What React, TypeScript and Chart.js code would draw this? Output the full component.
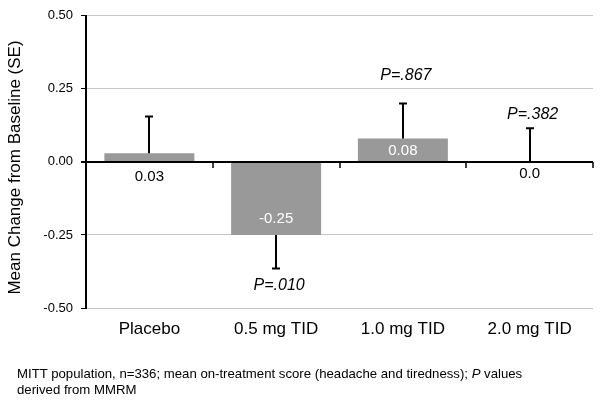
import React, { useEffect, useRef } from 'react';
import { Chart, registerables } from 'chart.js';

Chart.register(...registerables);

const categories = ['Placebo', '0.5 mg TID', '1.0 mg TID', '2.0 mg TID'];
const meanChange = [0.03, -0.25, 0.08, 0.0];
const standardError = [0.125, 0.115, 0.12, 0.115];
const valueLabels = ['0.03', '-0.25', '0.08', '0.0'];
const pValueLabels = ['', 'P=.010', 'P=.867', 'P=.382'];
const yTickValues = [-0.5, -0.25, 0, 0.25, 0.5];
const yAxisTitle = 'Mean Change from Baseline (SE)';

const FONT = "'Liberation Sans', Arial, Helvetica, sans-serif";

// style config (not data)
const labelPlacement = ['below', 'inside', 'inside', 'below'];
const pLabelGap = [0, 17, 28, 14];

const annotatePlugin = {
  id: 'annotate',
  afterDatasetsDraw(chart: any) {
    const ctx = chart.ctx;
    const x = chart.scales.x;
    const y = chart.scales.y;
    const area = chart.chartArea;
    const zeroY = y.getPixelForValue(0);
    const catW = (area.right - area.left) / categories.length;
    ctx.save();
    // tick marks on zero line at category boundaries
    ctx.strokeStyle = '#000';
    ctx.lineWidth = 1.5;
    for (let i = 0; i <= categories.length; i++) {
      const px = Math.round(area.left + i * catW);
      ctx.beginPath();
      ctx.moveTo(px, zeroY);
      ctx.lineTo(px, zeroY + 6);
      ctx.stroke();
    }
    // error bars
    ctx.lineWidth = 2;
    meanChange.forEach((v, i) => {
      const cx = Math.round(x.getPixelForValue(i));
      const dir = v < 0 ? -1 : 1;
      const y0 = y.getPixelForValue(v);
      const y1 = y.getPixelForValue(v + dir * standardError[i]);
      ctx.beginPath();
      ctx.moveTo(cx, y0);
      ctx.lineTo(cx, y1);
      ctx.moveTo(cx - 4, y1);
      ctx.lineTo(cx + 4, y1);
      ctx.stroke();
    });
    // value labels
    ctx.font = `15px ${FONT}`;
    ctx.textAlign = 'center';
    ctx.textBaseline = 'middle';
    meanChange.forEach((v, i) => {
      const cx = x.getPixelForValue(i);
      const end = y.getPixelForValue(v);
      let ly;
      if (labelPlacement[i] === 'below') {
        ly = zeroY + (v === 0 ? 12 : 15);
        ctx.fillStyle = '#000';
      } else {
        ly = v < 0 ? end - 16 : end + 12;
        ctx.fillStyle = '#fff';
      }
      ctx.fillText(valueLabels[i], cx, ly);
    });
    // p labels
    ctx.font = `italic 16px ${FONT}`;
    ctx.fillStyle = '#000';
    meanChange.forEach((v, i) => {
      if (!pValueLabels[i]) return;
      const cx = x.getPixelForValue(i) + 3;
      const dir = v < 0 ? -1 : 1;
      const yEnd = y.getPixelForValue(v + dir * standardError[i]);
      ctx.fillText(pValueLabels[i], cx, yEnd - dir * pLabelGap[i]);
    });
    // y-axis title
    ctx.font = `17px ${FONT}`;
    ctx.translate(15.5, 167.5);
    ctx.rotate(-Math.PI / 2);
    ctx.fillText(yAxisTitle, 0, 0);
    ctx.restore();
  },
};

export default function App() {
  const ref = useRef<HTMLCanvasElement>(null);
  useEffect(() => {
    if (!ref.current) return;
    const chart = new Chart(ref.current, {
      type: 'bar',
      data: {
        labels: categories,
        datasets: [
          {
            data: meanChange,
            backgroundColor: '#999999',
            borderWidth: 0,
            barPercentage: 0.71,
            categoryPercentage: 1,
          },
        ],
      },
      options: {
        responsive: false,
        animation: false,
        layout: { padding: { left: 0, top: 12, right: 8, bottom: 0 } },
        plugins: {
          legend: { display: false },
          tooltip: { enabled: false },
        },
        scales: {
          x: {
            grid: { display: false, drawTicks: false },
            border: { display: false },
            ticks: { color: '#000', font: { family: FONT, size: 17 }, padding: 11 },
            afterFit: (s: any) => {
              s.height = 94;
            },
          },
          y: {
            min: -0.5,
            max: 0.5,
            afterBuildTicks: (s: any) => {
              s.ticks = yTickValues.map((v) => ({ value: v }));
            },
            grid: {
              color: (c: any) => (c.tick && c.tick.value === 0 ? '#000' : '#c6c6c6'),
              lineWidth: (c: any) => (c.tick && c.tick.value === 0 ? 2 : 1),
              tickColor: '#000',
              tickLength: 5,
            },
            border: { display: true, color: '#000', width: 2 },
            ticks: {
              color: '#000',
              font: { family: FONT, size: 13 },
              padding: 8,
              callback: (v: any) => Number(v).toFixed(2),
            },
            afterFit: (s: any) => {
              s.width = 86;
            },
          },
        },
      },
      plugins: [annotatePlugin],
    });
    return () => chart.destroy();
  }, []);

  return (
    <div style={{ position: 'fixed', left: 0, top: 0, width: 601, height: 402, background: '#fff' }}>
      <canvas ref={ref} width={601} height={402} style={{ display: 'block' }} />
      <div
        style={{
          position: 'absolute',
          left: 17,
          top: 366,
          fontFamily: FONT,
          fontSize: 13.2,
          lineHeight: '16px',
          color: '#000',
          whiteSpace: 'nowrap',
        }}
      >
        MITT population, n=336; mean on-treatment score (headache and tiredness); <i>P</i> values
        <br />
        derived from MMRM
      </div>
    </div>
  );
}
